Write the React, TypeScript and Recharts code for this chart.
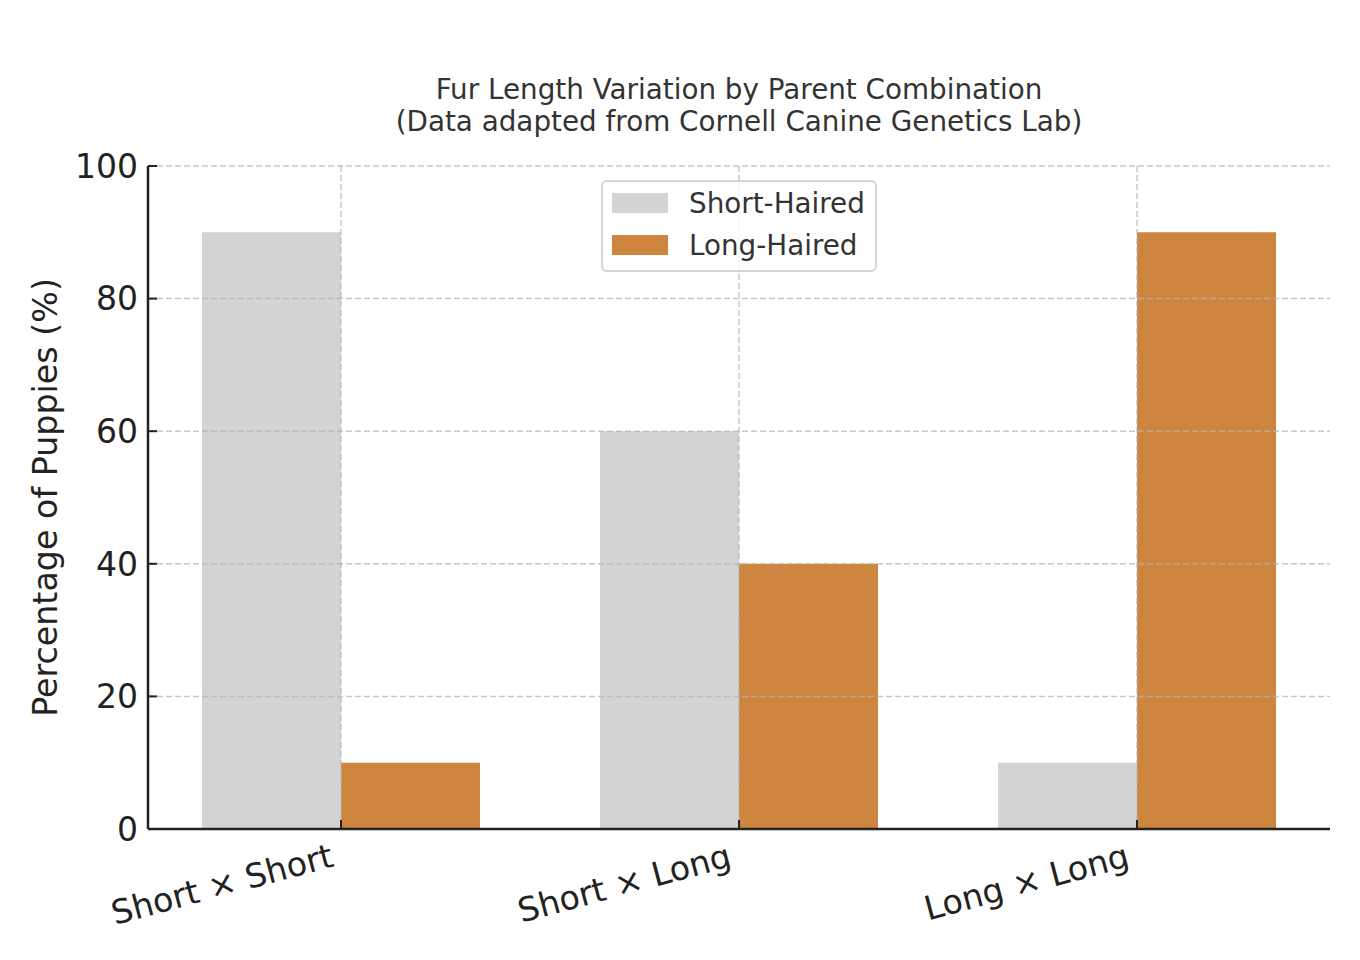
import React from 'react';
import { BarChart, Bar, XAxis, YAxis, CartesianGrid, Legend, ReferenceLine } from 'recharts';

const crosses = ['Short × Short', 'Short × Long', 'Long × Long'];
const seriesNames = ['Short-Haired', 'Long-Haired'];
const shortHaired = [90, 60, 10];
const longHaired = [10, 40, 90];
const yTicks = [0, 20, 40, 60, 80, 100];

const SHORT_COLOR = '#d3d3d3';
const LONG_COLOR = '#cd853f';
const INK = '#222222';
const GRID = '#b4b4b4';
const FONT = '"DejaVu Sans", Verdana, sans-serif';

const data = crosses.map((cross, i) => ({ cross, short: shortHaired[i], long: longHaired[i] }));

// rotated category label, right end hanging off the tick
function CrossTick(props: any) {
  const { x, y, payload } = props;
  const tx = x - 6;
  const ty = y + 37;
  return (
    <text
      x={tx}
      y={ty}
      transform={`rotate(-15 ${tx} ${ty})`}
      textAnchor="end"
      fontSize={33.3}
      fill={INK}
      fontFamily={FONT}
    >
      {payload.value}
    </text>
  );
}

function FurLegend(props: any) {
  const items = [...(props.payload || [])].sort(
    (a: any, b: any) => seriesNames.indexOf(a.value) - seriesNames.indexOf(b.value)
  );
  return (
    <div
      style={{
        border: '2px solid #d4d4d4',
        borderRadius: 6,
        background: 'rgba(255,255,255,0.8)',
        padding: '0 9px 4px',
        width: 276,
        boxSizing: 'border-box',
      }}
    >
      {items.map((it: any) => (
        <div key={it.value} style={{ display: 'flex', alignItems: 'center', height: 42 }}>
          <span style={{ width: 56, height: 20, background: it.color, marginRight: 21, flex: 'none' }} />
          <span style={{ fontSize: 27.8, color: '#333', fontFamily: FONT, whiteSpace: 'nowrap' }}>{it.value}</span>
        </div>
      ))}
    </div>
  );
}

function AxisTitle(props: any) {
  const vb = props.viewBox || { x: 0, y: 0, height: 0 };
  const cx = vb.x + 45;
  const cy = vb.y + vb.height / 2;
  return (
    <text
      x={cx}
      y={cy}
      transform={`rotate(-90 ${cx} ${cy})`}
      textAnchor="middle"
      dominantBaseline="central"
      fontSize={33.3}
      fill={INK}
      fontFamily={FONT}
    >
      Percentage of Puppies (%)
    </text>
  );
}

export default function App() {
  return (
    <div style={{ position: 'absolute', left: 0, top: 0, width: 1360, height: 960, background: '#fff' }}>
      <div
        style={{
          position: 'absolute',
          left: 339,
          top: 74,
          width: 800,
          textAlign: 'center',
          fontFamily: FONT,
          fontSize: 27.8,
          lineHeight: '32px',
          color: '#333',
        }}
      >
        <div>Fur Length Variation by Parent Combination</div>
        <div>(Data adapted from Cornell Canine Genetics Lab)</div>
      </div>
      <BarChart
        width={1360}
        height={960}
        data={data}
        margin={{ top: 166, right: 30, bottom: 31, left: 0 }}
        barGap={0}
        barSize={139}
      >
        <XAxis
          dataKey="cross"
          height={100}
          padding={{ left: -6, right: -6 }}
          axisLine={{ stroke: INK, strokeWidth: 2.5 }}
          tickLine={{ stroke: INK, strokeWidth: 2 }}
          tickSize={-9}
          tickMargin={9}
          tick={<CrossTick />}
          interval={0}
        />
        <YAxis
          width={148}
          domain={[0, 100]}
          ticks={yTicks}
          axisLine={{ stroke: INK, strokeWidth: 2.5 }}
          tickLine={{ stroke: INK, strokeWidth: 2 }}
          tickSize={-9}
          tickMargin={19}
          tick={{ fontSize: 33, fill: INK, fontFamily: FONT }}
          label={{ content: <AxisTitle /> }}
        />
        <Bar dataKey="short" name={seriesNames[0]} fill={SHORT_COLOR} isAnimationActive={false} />
        <Bar dataKey="long" name={seriesNames[1]} fill={LONG_COLOR} isAnimationActive={false} />
        <CartesianGrid
          zIndex={350}
          vertical={false}
          stroke={GRID}
          strokeOpacity={0.75}
          strokeWidth={1.5}
          strokeDasharray="6 3"
        />
        {crosses.map((c) => (
          <ReferenceLine
            key={c}
            x={c}
            stroke={GRID}
            strokeOpacity={0.75}
            strokeWidth={1.5}
            strokeDasharray="6 3"
          />
        ))}
        <Legend
          layout="horizontal"
          verticalAlign="middle"
          content={<FurLegend />}
          wrapperStyle={{ position: 'absolute', left: 601, top: 180, width: 276, bottom: 'auto', right: 'auto' }}
        />
      </BarChart>
    </div>
  );
}
